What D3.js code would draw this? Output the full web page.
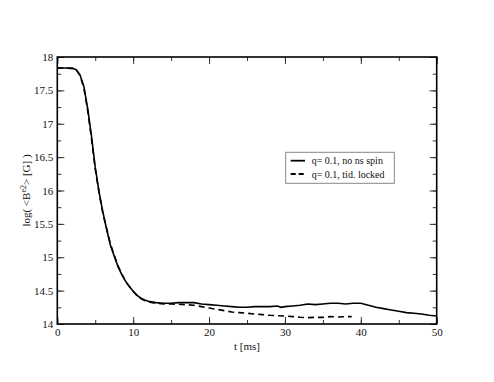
<!DOCTYPE html>
<meta charset="utf-8">
<style>
    body{ margin:0; background:#fff; }
    text{ font-family: "Liberation Serif", "DejaVu Serif", serif; fill:#111; }
</style>
<script src="https://d3js.org/d3.v7.min.js"></script>
<body>
<div id="chart"></div>
<script>
    // t [ms] and log(<B>)
    var tSolid = [0,1,2,2.5,3,3.5,4,4.5,5,5.5,6,6.5,7,7.5,8,8.5,9,9.5,10,10.5,11,11.5,12,13,14,15,16,17,18,19,20,21,22,23,24,25,26,27,28,29,29.5,30,31,32,33,34,35,36,37,38,39,40,41,42,43,44,45,46,47,48,49,50];
    var vSolid = [17.835,17.835,17.83,17.81,17.73,17.56,17.23,16.82,16.35,15.98,15.68,15.42,15.18,15.02,14.86,14.74,14.64,14.56,14.49,14.43,14.39,14.36,14.34,14.32,14.31,14.31,14.32,14.32,14.32,14.30,14.29,14.28,14.27,14.26,14.25,14.25,14.26,14.26,14.26,14.27,14.25,14.26,14.27,14.28,14.30,14.29,14.30,14.31,14.31,14.30,14.31,14.31,14.28,14.25,14.23,14.21,14.19,14.17,14.16,14.15,14.13,14.12];
    var tDashed = [0,1,2,2.5,3,3.5,4,4.5,5,5.5,6,6.5,7,7.5,8,8.5,9,9.5,10,10.5,11,11.5,12,13,14,15,16,17,18,19,20,21,22,23,24,25,26,27,28,29,30,31,32,33,34,35,36,37,38,38.8];
    var vDashed = [17.835,17.835,17.83,17.81,17.72,17.54,17.2,16.78,16.32,15.97,15.66,15.43,15.2,15.03,14.87,14.75,14.64,14.56,14.49,14.43,14.38,14.35,14.33,14.31,14.3,14.3,14.295,14.29,14.28,14.26,14.24,14.22,14.2,14.18,14.17,14.16,14.15,14.14,14.13,14.125,14.12,14.11,14.1,14.095,14.1,14.1,14.11,14.105,14.11,14.11];
    var xTicks = [0,10,20,30,40,50];
    var yTicks = [14,14.5,15,15.5,16,16.5,17,17.5,18];
    var legendLabels = ["q= 0.1, no ns spin", "q= 0.1, tid. locked"];

    var W = 494, H = 382;
    var pL = 57.3, pR = 436.7, pT = 57, pB = 324;

    var svg = d3.select("#chart").append("svg")
        .attr("width", W).attr("height", H);

    var x = d3.scaleLinear().domain([0,50]).range([pL,pR]);
    var y = d3.scaleLinear().domain([14,18]).range([pB,pT]);

    var xMinor = d3.range(0, 50.01, 5);
    var yMinor = d3.range(14, 18.01, 0.25);

    // ticks inward on all four sides
    function tickFmt(d){ return d3.format("~g")(d); }

    var bAxis = d3.axisBottom(x).tickValues(xTicks).tickSize(-7).tickFormat(tickFmt).tickPadding(4);
    var tAxis = d3.axisTop(x).tickValues(xTicks).tickSize(-7).tickFormat("");
    var lAxis = d3.axisLeft(y).tickValues(yTicks).tickSize(-7).tickFormat(tickFmt).tickPadding(4);
    var rAxis = d3.axisRight(y).tickValues(yTicks).tickSize(-7).tickFormat("");

    var mb = d3.axisBottom(x).tickValues(xMinor).tickSize(-4).tickFormat("");
    var mt = d3.axisTop(x).tickValues(xMinor).tickSize(-4).tickFormat("");
    var ml = d3.axisLeft(y).tickValues(yMinor).tickSize(-4).tickFormat("");
    var mr = d3.axisRight(y).tickValues(yMinor).tickSize(-4).tickFormat("");

    function put(ax, tr){
        var g = svg.append("g").attr("transform", tr).call(ax);
        g.select(".domain").remove();
        g.selectAll(".tick line").attr("stroke", "#333").attr("stroke-width", 1);
        g.selectAll("text").style("font-family", "Liberation Serif, serif").style("font-size", "11px").attr("fill", "#222");
        return g;
    }
    put(mb, "translate(0," + pB + ")");
    put(mt, "translate(0," + pT + ")");
    put(ml, "translate(" + pL + ",0)");
    put(mr, "translate(" + pR + ",0)");
    put(bAxis, "translate(0," + pB + ")");
    put(tAxis, "translate(0," + pT + ")");
    put(lAxis, "translate(" + pL + ",0)");
    put(rAxis, "translate(" + pR + ",0)");

    var line = d3.line().x(function(d){ return x(d[0]); }).y(function(d){ return y(d[1]); });

    var solid = tSolid.map(function(t,i){ return [t, vSolid[i]]; });
    var dashed = tDashed.map(function(t,i){ return [t, vDashed[i]]; });

    svg.append("path").datum(dashed).attr("d", line)
        .attr("fill", "none").attr("stroke", "#000").attr("stroke-width", 1.6)
        .attr("stroke-dasharray", "6,4");
    svg.append("path").datum(solid).attr("d", line)
        .attr("fill", "none").attr("stroke", "#000").attr("stroke-width", 1.6);

    // frame
    svg.append("rect").attr("x", pL).attr("y", pT)
        .attr("width", pR-pL).attr("height", pB-pT)
        .attr("fill", "none").attr("stroke", "#000").attr("stroke-width", 1.6);

    // axis labels
    svg.append("text").attr("x", (pL+pR)/2).attr("y", 350)
        .attr("text-anchor", "middle").style("font-size", "11px").text("t [ms]");

    var yl = svg.append("text")
        .attr("transform", "translate(30," + (pT+pB)/2 + ") rotate(-90)")
        .attr("text-anchor", "middle").style("font-size", "11px");
    yl.append("tspan").text("log( <B");
    yl.append("tspan").attr("dy", -4).style("font-size", "8px").text("e2");
    yl.append("tspan").attr("dy", 4).text("> [G] )");

    // legend
    var lg = svg.append("g");
    lg.append("rect").attr("x", 285.7).attr("y", 152.3).attr("width", 108.6).attr("height", 31)
        .attr("fill", "#fff").attr("stroke", "#888").attr("stroke-width", 1);
    legendLabels.forEach(function(lab, i){
        var yy = 160.7 + i*13.3;
        lg.append("line").attr("x1", 290.7).attr("x2", 305).attr("y1", yy).attr("y2", yy)
            .attr("stroke", "#000").attr("stroke-width", 1.8)
            .attr("stroke-dasharray", i == 1 ? "5,3" : null);
        lg.append("text").attr("x", 311.7).attr("y", yy + 3.5)
            .style("font-size", "10px").text(lab);
    });
</script>
</body>
